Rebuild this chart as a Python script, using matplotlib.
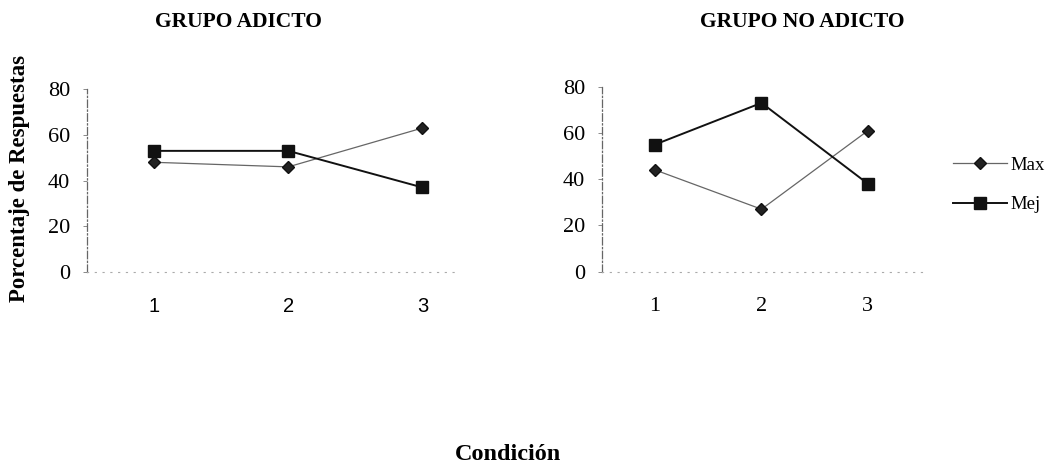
import matplotlib
matplotlib.use("Agg")
import matplotlib.pyplot as plt
from matplotlib.lines import Line2D

# condition labels and series values (percent of responses)
conditions = [1, 2, 3]
adicto_max = [48, 46, 63]
adicto_mej = [53, 53, 37]
no_adicto_max = [44, 27, 61]
no_adicto_mej = [55, 73, 38]
series_names = ["Max", "Mej"]

plt.rcParams["font.family"] = ["Liberation Serif", "DejaVu Serif"]

fig = plt.figure(figsize=(10.54, 4.74), dpi=100)
ax_l = fig.add_axes([0.0825, 0.426, 0.354, 0.386])
ax_r = fig.add_axes([0.571, 0.427, 0.308, 0.390])


def style_panel(ax, xlim, sans_x=False):
    ax.set_ylim(0, 80)
    ax.set_xlim(*xlim)
    ax.set_yticks([0, 20, 40, 60, 80])
    ax.set_xticks(conditions)
    ax.spines["top"].set_visible(False)
    ax.spines["right"].set_visible(False)
    ax.spines["left"].set_color("#666666")
    ax.spines["left"].set_linewidth(0.9)
    ax.spines["left"].set_linestyle((0, (6, 2, 1, 2)))
    ax.spines["bottom"].set_color("#aaaaaa")
    ax.spines["bottom"].set_linewidth(0.8)
    ax.spines["bottom"].set_linestyle((0, (1, 6)))
    ax.tick_params(axis="y", length=3, width=0.6, color="#777777",
                   pad=9, labelsize=16)
    ax.tick_params(axis="x", length=0, pad=18, labelsize=16)
    if sans_x:
        for t in ax.get_xticklabels():
            t.set_family(["Liberation Sans", "DejaVu Sans"])
            t.set_fontsize(14.5)


def draw(ax, max_vals, mej_vals):
    ax.plot(conditions, max_vals, color="#666666", lw=0.9, marker="D",
            ms=6.5, mfc="#222222", mec="#111111", clip_on=False)
    ax.plot(conditions, mej_vals, color="#111111", lw=1.4, marker="s",
            ms=8.5, mfc="#111111", mec="#111111", clip_on=False)


draw(ax_l, adicto_max, adicto_mej)
draw(ax_r, no_adicto_max, no_adicto_mej)
style_panel(ax_l, (0.5, 3.28), sans_x=True)
style_panel(ax_r, (0.5, 3.55))

fig.text(238 / 1054, 1 - 22 / 474, "GRUPO ADICTO", ha="center", va="center",
         fontsize=15.5, fontweight="bold")
fig.text(802 / 1054, 1 - 22 / 474, "GRUPO NO ADICTO", ha="center", va="center",
         fontsize=15.5, fontweight="bold")
fig.text(20 / 1054, 1 - 179 / 474, "Porcentaje de Respuestas", rotation=90,
         ha="center", va="center", fontsize=16.5, fontweight="bold")
fig.text(508 / 1054, 1 - 455 / 474, "Condición", ha="center", va="center",
         fontsize=17.5, fontweight="bold")

handles = [
    Line2D([], [], color="#666666", lw=0.9, marker="D", ms=6.5,
           mfc="#222222", mec="#111111"),
    Line2D([], [], color="#111111", lw=1.4, marker="s", ms=8.5,
           mfc="#111111", mec="#111111"),
]
fig.legend(handles, series_names, loc="upper left",
           bbox_to_anchor=(953 / 1054, 1 - 156.5 / 474), frameon=False,
           borderpad=0, borderaxespad=0, handlelength=2.9, handletextpad=0.15,
           labelspacing=1.19, fontsize=13.5)

fig.savefig("out.png", dpi=100)
